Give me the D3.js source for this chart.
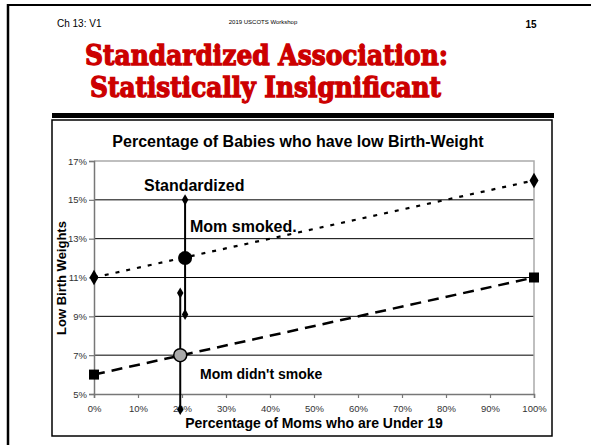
<!DOCTYPE html>
<html>
<head>
<meta charset="utf-8">
<script src="https://cdn.jsdelivr.net/npm/d3@7"></script>
<style>
  body { margin: 0; background: #fff; }
  text { font-family: "Liberation Sans", Arial, sans-serif; }
</style>
</head>
<body>
<div id="chart"></div>
<script>
var width = 591,
    height = 445;

// data
var xValues = [0, 100];
var smoked = [11, 16];
var nonSmoked = [6, 11];
var stdX = [20.7, 19.6];
var stdY = [12, 7];
var stdLow = [9.1, 4.2];
var stdHigh = [15, 10.2];
var yTicks = [5, 7, 9, 11, 13, 15, 17];
var xTicks = [0, 10, 20, 30, 40, 50, 60, 70, 80, 90, 100];

var svg = d3.select("#chart")
    .append("svg")
    .attr("width", width)
    .attr("height", height);

// slide frame
svg.append("line").attr("x1", 7).attr("x2", 591).attr("y1", 5).attr("y2", 5)
    .attr("stroke", "#000").attr("stroke-width", 2);
svg.append("line").attr("x1", 8).attr("x2", 8).attr("y1", 4).attr("y2", 445)
    .attr("stroke", "#000").attr("stroke-width", 2.5);

svg.append("text").text("Ch 13:  V1").attr("x", 57).attr("y", 27)
    .style("font-size", "10px");
svg.append("text").text("2019 USCOTS Workshop").attr("x", 263).attr("y", 24)
    .attr("text-anchor", "middle").style("font-size", "6px");
svg.append("text").text("15").attr("x", 531).attr("y", 28)
    .attr("text-anchor", "middle").style("font-size", "10px").style("font-weight", "bold");

svg.append("text").text("Standardized Association:")
    .attr("x", 85).attr("y", 65)
    .attr("textLength", 363).attr("lengthAdjust", "spacingAndGlyphs")
    .style("font-family", "'DejaVu Serif', serif").style("font-weight", "bold")
    .style("font-size", "28px").style("fill", "#cc0000")
    .style("stroke", "#cc0000").style("stroke-width", 1.3);
svg.append("text").text("Statistically Insignificant")
    .attr("x", 90).attr("y", 97)
    .attr("textLength", 351).attr("lengthAdjust", "spacingAndGlyphs")
    .style("font-family", "'DejaVu Serif', serif").style("font-weight", "bold")
    .style("font-size", "28px").style("fill", "#cc0000")
    .style("stroke", "#cc0000").style("stroke-width", 1.3);

// chart box
svg.append("rect").attr("x", 52).attr("y", 113).attr("width", 502).attr("height", 5)
    .style("fill", "#000");
svg.append("rect").attr("x", 52).attr("y", 120).attr("width", 500).attr("height", 316)
    .style("fill", "#fff").style("stroke", "#000").style("stroke-width", 1.5);

var plotLeft = 94, plotRight = 534, plotTop = 161, plotBottom = 394;

var x = d3.scaleLinear().domain([0, 100]).range([plotLeft, plotRight]);
var y = d3.scaleLinear().domain([5, 17]).range([plotBottom, plotTop]);

// gridlines
svg.append("g").selectAll("line")
    .data(yTicks.filter(function(d) { return d > 5 && d < 17; }))
    .enter().append("line")
    .attr("x1", plotLeft).attr("x2", plotRight)
    .attr("y1", function(d) { return y(d); })
    .attr("y2", function(d) { return y(d); })
    .attr("stroke", "#000").attr("stroke-width", 1);

// plot border top/right
svg.append("path")
    .attr("d", "M" + plotLeft + "," + plotTop + "H" + plotRight + "V" + plotBottom)
    .attr("fill", "none").attr("stroke", "#aaa").attr("stroke-width", 1.5);

var yAxis = svg.append("g")
    .attr("transform", "translate(" + plotLeft + ",0)")
    .call(d3.axisLeft(y).tickValues(yTicks).tickSize(5).tickPadding(2)
        .tickFormat(function(d) { return d + "%"; }));
var xAxis = svg.append("g")
    .attr("transform", "translate(0," + plotBottom + ")")
    .call(d3.axisBottom(x).tickValues(xTicks).tickSize(4).tickPadding(7)
        .tickFormat(function(d) { return d + "%"; }));
[yAxis, xAxis].forEach(function(a) {
    a.select(".domain").attr("stroke", "#777").attr("stroke-width", 1.5);
    a.selectAll(".tick line").attr("stroke", "#777").attr("stroke-width", 1.2);
    a.selectAll("text").style("font-size", "9.5px").style("fill", "#333")
        .style("font-family", "'Liberation Sans', Arial, sans-serif");
});

// titles
svg.append("text").text("Percentage of Babies who have low Birth-Weight")
    .attr("x", 298).attr("y", 147).attr("text-anchor", "middle")
    .style("font-size", "16px").style("font-weight", "bold");
svg.append("text").text("Percentage of Moms who are Under 19")
    .attr("x", 314).attr("y", 428).attr("text-anchor", "middle")
    .style("font-size", "14px").style("font-weight", "bold");
svg.append("text").text("Low Birth Weights")
    .attr("transform", "translate(66,278) rotate(-90)").attr("text-anchor", "middle")
    .style("font-size", "13px").style("font-weight", "bold");

var line = d3.line()
    .x(function(d) { return x(d[0]); })
    .y(function(d) { return y(d[1]); });

svg.append("path").datum(d3.zip(xValues, smoked))
    .attr("d", line).attr("fill", "none").attr("stroke", "#000")
    .attr("stroke-width", 2.2).attr("stroke-dasharray", "4,7");
svg.append("path").datum(d3.zip(xValues, nonSmoked))
    .attr("d", line).attr("fill", "none").attr("stroke", "#000")
    .attr("stroke-width", 2.5).attr("stroke-dasharray", "11,7");

var diamond = d3.symbol().type(d3.symbolDiamond);
var square = d3.symbol().type(d3.symbolSquare);

svg.selectAll(".smk").data(d3.zip(xValues, smoked)).enter().append("path")
    .attr("transform", function(d) { return "translate(" + x(d[0]) + "," + y(d[1]) + ")"; })
    .attr("d", diamond.size(70)).style("fill", "#000");
svg.selectAll(".non").data(d3.zip(xValues, nonSmoked)).enter().append("path")
    .attr("transform", function(d) { return "translate(" + x(d[0]) + "," + y(d[1]) + ")"; })
    .attr("d", square.size(100)).style("fill", "#000");

// standardized intervals
for (var i = 0; i < stdX.length; i++) {
    svg.append("line")
        .attr("x1", x(stdX[i])).attr("x2", x(stdX[i]))
        .attr("y1", y(stdLow[i])).attr("y2", y(stdHigh[i]))
        .attr("stroke", "#000").attr("stroke-width", 2);
    [stdLow[i], stdHigh[i]].forEach(function(v) {
        svg.append("path")
            .attr("transform", "translate(" + x(stdX[i]) + "," + y(v) + ")")
            .attr("d", diamond.size(36)).style("fill", "#000");
    });
}
svg.append("circle").attr("cx", x(stdX[0])).attr("cy", y(stdY[0])).attr("r", 7)
    .style("fill", "#000");
svg.append("circle").attr("cx", x(stdX[1])).attr("cy", y(stdY[1])).attr("r", 6.5)
    .style("fill", "#aaa").style("stroke", "#000").style("stroke-width", 1.5);

// annotations
svg.append("text").text("Standardized").attr("x", 144).attr("y", 191)
    .style("font-size", "16px").style("font-weight", "bold");
svg.append("text").text("Mom smoked.").attr("x", 190).attr("y", 232)
    .style("font-size", "16px").style("font-weight", "bold");
svg.append("text").text("Mom didn't smoke").attr("x", 200).attr("y", 379)
    .style("font-size", "14px").style("font-weight", "bold");
</script>
</body>
</html>
